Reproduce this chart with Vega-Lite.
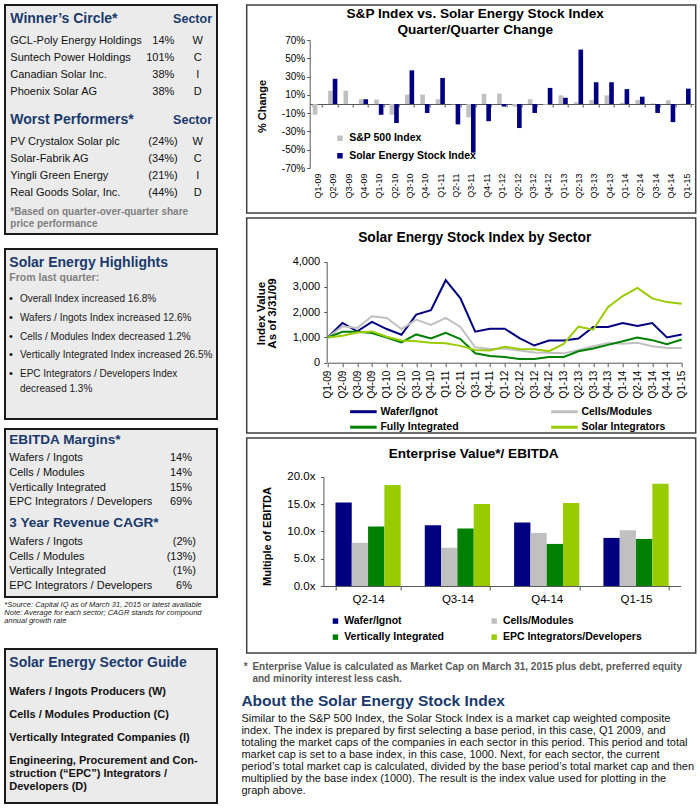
{
  "$schema": "https://vega.github.io/schema/vega-lite/v6.json",
  "padding": {"left": 4, "top": 4, "right": 0, "bottom": 0},
  "background": "white",
  "config": {
    "font": "Liberation Sans",
    "view": {"stroke": null},
    "axis": {"grid": false, "domainColor": "#595959", "tickColor": "#595959", "labelColor": "#000000", "titleColor": "#000000", "labelFont": "Liberation Sans", "titleFont": "Liberation Sans"},
    "legend": {"padding": 0, "labelColor": "#000000", "labelFont": "Liberation Sans"},
    "title": {"font": "Liberation Sans", "color": "#000000"},
    "text": {"font": "Liberation Sans"}
  },
  "spacing": 22.7,
  "resolve": {"scale": {"color": "independent", "xOffset": "independent"}, "legend": {"color": "independent"}},
  "hconcat": [
    {
      "bounds": "flush",
      "spacing": 15,
      "vconcat": [
        {
          "width": 212, "height": 229,
          "view": {"fill": "#ebebeb", "stroke": "#1a1a1a", "strokeWidth": 2},
          "data": {"values": [
            {"k": "h", "t": "Winner’s Circle*", "s": "Sector", "line": -1.3},
            {"k": "i", "t": "GCL-Poly Energy Holdings", "v": "14%", "s": "W", "line": 0},
            {"k": "i", "t": "Suntech Power Holdings", "v": "101%", "s": "C", "line": 1},
            {"k": "i", "t": "Canadian Solar Inc.", "v": "38%", "s": "I", "line": 2},
            {"k": "i", "t": "Phoenix Solar AG", "v": "38%", "s": "D", "line": 3},
            {"k": "h", "t": "Worst Performers*", "s": "Sector", "line": 4.7},
            {"k": "i", "t": "PV Crystalox Solar plc", "v": "(24%)", "s": "W", "line": 6},
            {"k": "i", "t": "Solar-Fabrik AG", "v": "(34%)", "s": "C", "line": 7},
            {"k": "i", "t": "Yingli Green Energy", "v": "(21%)", "s": "I", "line": 8},
            {"k": "i", "t": "Real Goods Solar, Inc.", "v": "(44%)", "s": "D", "line": 9},
            {"k": "f", "t": "*Based on quarter-over-quarter share", "line": 10.1},
            {"k": "f", "t": "\u00a0\u00a0price performance", "line": 10.85}
          ]},
          "encoding": {"y": {"field": "line", "type": "quantitative", "scale": {"domain": [0, 9], "range": [36, 188.1]}, "axis": null}},
          "layer": [
            {"transform": [{"filter": "datum.k == 'h'"}], "mark": {"type": "text", "align": "left", "baseline": "middle", "dx": -100.7, "fontSize": 14, "fontWeight": "bold", "color": "#1a3a6c"}, "encoding": {"text": {"field": "t"}}},
            {"transform": [{"filter": "datum.k == 'h'"}], "mark": {"type": "text", "align": "right", "baseline": "middle", "dx": 101, "fontSize": 12.5, "fontWeight": "bold", "color": "#1a3a6c"}, "encoding": {"text": {"field": "s"}}},
            {"transform": [{"filter": "datum.k == 'i'"}], "mark": {"type": "text", "align": "left", "baseline": "middle", "dx": -100.7, "fontSize": 11, "color": "#111111"}, "encoding": {"text": {"field": "t"}}},
            {"transform": [{"filter": "datum.k == 'i' && indexof(datum.v, '(') < 0"}], "mark": {"type": "text", "align": "right", "baseline": "middle", "dx": 63.3, "fontSize": 11, "color": "#111111"}, "encoding": {"text": {"field": "v"}}},
            {"transform": [{"filter": "datum.k == 'i' && indexof(datum.v, '(') >= 0"}], "mark": {"type": "text", "align": "right", "baseline": "middle", "dx": 66.7, "fontSize": 11, "color": "#111111"}, "encoding": {"text": {"field": "v"}}},
            {"transform": [{"filter": "datum.k == 'i'"}], "mark": {"type": "text", "align": "center", "baseline": "middle", "dx": 86.7, "fontSize": 11, "color": "#111111"}, "encoding": {"text": {"field": "s"}}},
            {"transform": [{"filter": "datum.k == 'f'"}], "mark": {"type": "text", "align": "left", "baseline": "middle", "dx": -100.7, "fontSize": 10, "fontWeight": "bold", "color": "#7f7f7f"}, "encoding": {"text": {"field": "t"}}}
          ]
        },
        {
          "bounds": "flush",
          "spacing": 10,
          "vconcat": [
            {
              "width": 212, "height": 170,
              "view": {"fill": "#ebebeb", "stroke": "#1a1a1a", "strokeWidth": 2},
              "data": {"values": [
                {"k": "h", "t": "Solar Energy Highlights", "line": -1.9},
                {"k": "sub", "t": "From last quarter:", "line": -1.08},
                {"k": "b", "t": "Overall Index increased 16.8%", "line": 0},
                {"k": "b", "t": "Wafers / Ingots Index increased 12.6%", "line": 1},
                {"k": "b", "t": "Cells / Modules Index decreased 1.2%", "line": 2},
                {"k": "b", "t": "Vertically Integrated Index increased 26.5%", "line": 3},
                {"k": "b", "t": "EPC Integrators / Developers Index", "line": 4},
                {"k": "c", "t": "decreased 1.3%", "line": 4.76}
              ]},
              "encoding": {"y": {"field": "line", "type": "quantitative", "scale": {"domain": [0, 4], "range": [49.7, 125.3]}, "axis": null}},
              "layer": [
                {"transform": [{"filter": "datum.k == 'h'"}], "mark": {"type": "text", "align": "left", "baseline": "middle", "dx": -101.7, "fontSize": 14, "fontWeight": "bold", "color": "#1a3a6c"}, "encoding": {"text": {"field": "t"}}},
                {"transform": [{"filter": "datum.k == 'sub'"}], "mark": {"type": "text", "align": "left", "baseline": "middle", "dx": -101.7, "fontSize": 10.5, "fontWeight": "bold", "color": "#7f7f7f"}, "encoding": {"text": {"field": "t"}}},
                {"transform": [{"filter": "datum.k == 'b'"}], "mark": {"type": "text", "align": "center", "baseline": "middle", "dx": -100, "fontSize": 11, "color": "#111111"}, "encoding": {"text": {"value": "•"}}},
                {"transform": [{"filter": "datum.k == 'b' || datum.k == 'c'"}], "mark": {"type": "text", "align": "left", "baseline": "middle", "dx": -91, "fontSize": 10, "color": "#1a1a1a"}, "encoding": {"text": {"field": "t"}}}
              ]
            },
            {
              "bounds": "flush",
              "spacing": 2,
              "vconcat": [
                {
                  "width": 212, "height": 168,
                  "view": {"fill": "#ebebeb", "stroke": "#1a1a1a", "strokeWidth": 2},
                  "data": {"values": [
                    {"k": "h", "t": "EBITDA Margins*", "line": -1.23},
                    {"k": "i", "t": "Wafers / Ingots", "v": "14%", "line": 0},
                    {"k": "i", "t": "Cells / Modules", "v": "14%", "line": 1},
                    {"k": "i", "t": "Vertically Integrated", "v": "15%", "line": 2},
                    {"k": "i", "t": "EPC Integrators / Developers", "v": "69%", "line": 3},
                    {"k": "h", "t": "3 Year Revenue CAGR*", "line": 4.41},
                    {"k": "i", "t": "Wafers / Ingots", "v": "(2%)", "line": 5.75},
                    {"k": "i", "t": "Cells / Modules", "v": "(13%)", "line": 6.75},
                    {"k": "i", "t": "Vertically Integrated", "v": "(1%)", "line": 7.75},
                    {"k": "i", "t": "EPC Integrators / Developers", "v": "6%", "line": 8.75}
                  ]},
                  "encoding": {"y": {"field": "line", "type": "quantitative", "scale": {"domain": [0, 3], "range": [29.3, 73.1]}, "axis": null}},
                  "layer": [
                    {"transform": [{"filter": "datum.k == 'h'"}], "mark": {"type": "text", "align": "left", "baseline": "middle", "dx": -101.7, "fontSize": 13.6, "fontWeight": "bold", "color": "#1a3a6c"}, "encoding": {"text": {"field": "t"}}},
                    {"transform": [{"filter": "datum.k == 'i'"}], "mark": {"type": "text", "align": "left", "baseline": "middle", "dx": -101.7, "fontSize": 11, "color": "#111111"}, "encoding": {"text": {"field": "t"}}},
                    {"transform": [{"filter": "datum.k == 'i' && indexof(datum.v, '(') < 0"}], "mark": {"type": "text", "align": "right", "baseline": "middle", "dx": 81, "fontSize": 11, "color": "#111111"}, "encoding": {"text": {"field": "v"}}},
                    {"transform": [{"filter": "datum.k == 'i' && indexof(datum.v, '(') >= 0"}], "mark": {"type": "text", "align": "right", "baseline": "middle", "dx": 85, "fontSize": 11, "color": "#111111"}, "encoding": {"text": {"field": "v"}}}
                  ]
                },
                {
                  "width": 212, "height": 48,
                  "data": {"values": [
                    {"t": "*Source: Capital IQ as of March 31, 2015 or latest available", "line": 0},
                    {"t": "Note: Average for each sector; CAGR stands for compound", "line": 1},
                    {"t": "annual growth rate", "line": 2}
                  ]},
                  "mark": {"type": "text", "align": "left", "baseline": "middle", "dx": -106.7, "fontSize": 7.5, "fontStyle": "italic", "color": "#222222"},
                  "encoding": {
                    "y": {"field": "line", "type": "quantitative", "scale": {"domain": [0, 2], "range": [6, 22]}, "axis": null},
                    "text": {"field": "t"}
                  }
                },
                {
                  "width": 212, "height": 154,
                  "view": {"fill": "#ebebeb", "stroke": "#1a1a1a", "strokeWidth": 2},
                  "data": {"values": [
                    {"k": "h", "t": "Solar Energy Sector Guide", "line": -1.26},
                    {"k": "i", "t": "Wafers / Ingots Producers (W)", "line": 0},
                    {"k": "i", "t": "Cells / Modules Production (C)", "line": 1},
                    {"k": "i", "t": "Vertically Integrated Companies (I)", "line": 2},
                    {"k": "i", "t": "Engineering, Procurement and Con-", "line": 3},
                    {"k": "i", "t": "struction (“EPC”) Integrators /", "line": 3.58},
                    {"k": "i", "t": "Developers (D)", "line": 4.16}
                  ]},
                  "encoding": {"y": {"field": "line", "type": "quantitative", "scale": {"domain": [0, 2], "range": [42.7, 88.7]}, "axis": null}},
                  "layer": [
                    {"transform": [{"filter": "datum.k == 'h'"}], "mark": {"type": "text", "align": "left", "baseline": "middle", "dx": -101.7, "fontSize": 14, "fontWeight": "bold", "color": "#1a3a6c"}, "encoding": {"text": {"field": "t"}}},
                    {"transform": [{"filter": "datum.k == 'i'"}], "mark": {"type": "text", "align": "left", "baseline": "middle", "dx": -101.7, "fontSize": 11, "fontWeight": "bold", "color": "#111111"}, "encoding": {"text": {"field": "t"}}}
                  ]
                }
              ]
            }
          ]
        }
      ]
    },
    {
      "bounds": "flush",
      "spacing": 5,
      "resolve": {"scale": {"color": "independent", "xOffset": "independent"}, "legend": {"color": "independent"}},
      "vconcat": [
        {
          "width": 449, "height": 208,
          "view": {"fill": "white", "stroke": "#404040", "strokeWidth": 1.5},
          "title": {"text": ["S&P Index vs. Solar Energy Stock Index", "Quarter/Quarter Change"], "fontSize": 13.6, "fontWeight": "bold", "anchor": "middle", "frame": "group", "offset": -31.5, "dx": 4, "lineHeight": 15.5},
          "data": {"values": [
            {"q": "Q1-09", "s": "S&P 500 Index", "v": -11.7},
            {"q": "Q2-09", "s": "S&P 500 Index", "v": 14.5},
            {"q": "Q3-09", "s": "S&P 500 Index", "v": 14.5},
            {"q": "Q4-09", "s": "S&P 500 Index", "v": 5.2},
            {"q": "Q1-10", "s": "S&P 500 Index", "v": 4.8},
            {"q": "Q2-10", "s": "S&P 500 Index", "v": -11.8},
            {"q": "Q3-10", "s": "S&P 500 Index", "v": 10.2},
            {"q": "Q4-10", "s": "S&P 500 Index", "v": 10.2},
            {"q": "Q1-11", "s": "S&P 500 Index", "v": 5.2},
            {"q": "Q2-11", "s": "S&P 500 Index", "v": -0.4},
            {"q": "Q3-11", "s": "S&P 500 Index", "v": -14.5},
            {"q": "Q4-11", "s": "S&P 500 Index", "v": 11.2},
            {"q": "Q1-12", "s": "S&P 500 Index", "v": 11.5},
            {"q": "Q2-12", "s": "S&P 500 Index", "v": -3.0},
            {"q": "Q3-12", "s": "S&P 500 Index", "v": 5.2},
            {"q": "Q4-12", "s": "S&P 500 Index", "v": -1.0},
            {"q": "Q1-13", "s": "S&P 500 Index", "v": 9.5},
            {"q": "Q2-13", "s": "S&P 500 Index", "v": 2.0},
            {"q": "Q3-13", "s": "S&P 500 Index", "v": 4.3},
            {"q": "Q4-13", "s": "S&P 500 Index", "v": 9.5},
            {"q": "Q1-14", "s": "S&P 500 Index", "v": 1.3},
            {"q": "Q2-14", "s": "S&P 500 Index", "v": 4.3},
            {"q": "Q3-14", "s": "S&P 500 Index", "v": 0.6},
            {"q": "Q4-14", "s": "S&P 500 Index", "v": 4.2},
            {"q": "Q1-15", "s": "S&P 500 Index", "v": 0.5},
            {"q": "Q1-09", "s": "Solar Energy Stock Index", "v": 0},
            {"q": "Q2-09", "s": "Solar Energy Stock Index", "v": 27.6},
            {"q": "Q3-09", "s": "Solar Energy Stock Index", "v": 0},
            {"q": "Q4-09", "s": "Solar Energy Stock Index", "v": 5.2},
            {"q": "Q1-10", "s": "Solar Energy Stock Index", "v": -11.8},
            {"q": "Q2-10", "s": "Solar Energy Stock Index", "v": -20.8},
            {"q": "Q3-10", "s": "Solar Energy Stock Index", "v": 36.8},
            {"q": "Q4-10", "s": "Solar Energy Stock Index", "v": -9.8},
            {"q": "Q1-11", "s": "Solar Energy Stock Index", "v": 28.5},
            {"q": "Q2-11", "s": "Solar Energy Stock Index", "v": -22.3},
            {"q": "Q3-11", "s": "Solar Energy Stock Index", "v": -53.2},
            {"q": "Q4-11", "s": "Solar Energy Stock Index", "v": -18.8},
            {"q": "Q1-12", "s": "Solar Energy Stock Index", "v": -2.8},
            {"q": "Q2-12", "s": "Solar Energy Stock Index", "v": -26.3},
            {"q": "Q3-12", "s": "Solar Energy Stock Index", "v": -9.8},
            {"q": "Q4-12", "s": "Solar Energy Stock Index", "v": 17.6},
            {"q": "Q1-13", "s": "Solar Energy Stock Index", "v": 6.8},
            {"q": "Q2-13", "s": "Solar Energy Stock Index", "v": 59.5},
            {"q": "Q3-13", "s": "Solar Energy Stock Index", "v": 23.8},
            {"q": "Q4-13", "s": "Solar Energy Stock Index", "v": 23.8},
            {"q": "Q1-14", "s": "Solar Energy Stock Index", "v": 16.3},
            {"q": "Q2-14", "s": "Solar Energy Stock Index", "v": 8.0},
            {"q": "Q3-14", "s": "Solar Energy Stock Index", "v": -9.8},
            {"q": "Q4-14", "s": "Solar Energy Stock Index", "v": -19.8},
            {"q": "Q1-15", "s": "Solar Energy Stock Index", "v": 16.8}
          ]},
          "mark": {"type": "bar"},
          "encoding": {
            "x": {"field": "q", "type": "nominal", "sort": null,
                  "scale": {"range": [63, 447], "paddingInner": 0.4, "paddingOuter": 0.2},
                  "axis": {"title": null, "orient": "bottom", "offset": -109, "labelAngle": -90, "labelFontSize": 9, "labelPadding": 66, "tickBand": "extent", "tickSize": 3}},
            "xOffset": {"field": "s", "type": "nominal", "sort": ["S&P 500 Index", "Solar Energy Stock Index"]},
            "y": {"field": "v", "type": "quantitative",
                  "scale": {"domain": [-70, 70], "range": [163, 35], "nice": false, "zero": false},
                  "axis": {"title": "% Change", "offset": -63, "values": [-70, -50, -30, -10, 10, 30, 50, 70], "labelExpr": "datum.value + '%'", "labelFontSize": 10, "tickSize": 3, "titleFontSize": 11, "titleFontWeight": "bold", "titleX": -42, "titleY": 101}},
            "color": {"field": "s", "type": "nominal",
                      "scale": {"domain": ["S&P 500 Index", "Solar Energy Stock Index"], "range": ["#c0c0c0", "#000080"]},
                      "legend": {"orient": "none", "legendX": 88, "legendY": 128, "title": null, "columns": 1, "symbolType": "square", "symbolSize": 30, "labelFontSize": 10.5, "labelFontWeight": "bold", "rowPadding": 6.5, "labelOffset": 4}}
          }
        },
        {
          "width": 449, "height": 215,
          "view": {"fill": "white", "stroke": "#404040", "strokeWidth": 1.5},
          "title": {"text": "Solar Energy Stock Index by Sector", "fontSize": 13.8, "fontWeight": "bold", "anchor": "middle", "frame": "group", "offset": -27, "dx": 3.5},
          "data": {"values": [
            {"q": "Q1-09", "s": "Wafer/Ignot", "v": 1000}, {"q": "Q2-09", "s": "Wafer/Ignot", "v": 1573}, {"q": "Q3-09", "s": "Wafer/Ignot", "v": 1240}, {"q": "Q4-09", "s": "Wafer/Ignot", "v": 1613}, {"q": "Q1-10", "s": "Wafer/Ignot", "v": 1333}, {"q": "Q2-10", "s": "Wafer/Ignot", "v": 1107}, {"q": "Q3-10", "s": "Wafer/Ignot", "v": 1907}, {"q": "Q4-10", "s": "Wafer/Ignot", "v": 2080}, {"q": "Q1-11", "s": "Wafer/Ignot", "v": 3267}, {"q": "Q2-11", "s": "Wafer/Ignot", "v": 2547}, {"q": "Q3-11", "s": "Wafer/Ignot", "v": 1227}, {"q": "Q4-11", "s": "Wafer/Ignot", "v": 1347}, {"q": "Q1-12", "s": "Wafer/Ignot", "v": 1347}, {"q": "Q2-12", "s": "Wafer/Ignot", "v": 973}, {"q": "Q3-12", "s": "Wafer/Ignot", "v": 680}, {"q": "Q4-12", "s": "Wafer/Ignot", "v": 880}, {"q": "Q1-13", "s": "Wafer/Ignot", "v": 880}, {"q": "Q2-13", "s": "Wafer/Ignot", "v": 960}, {"q": "Q3-13", "s": "Wafer/Ignot", "v": 1413}, {"q": "Q4-13", "s": "Wafer/Ignot", "v": 1413}, {"q": "Q1-14", "s": "Wafer/Ignot", "v": 1573}, {"q": "Q2-14", "s": "Wafer/Ignot", "v": 1453}, {"q": "Q3-14", "s": "Wafer/Ignot", "v": 1573}, {"q": "Q4-14", "s": "Wafer/Ignot", "v": 1000}, {"q": "Q1-15", "s": "Wafer/Ignot", "v": 1120},
            {"q": "Q1-09", "s": "Cells/Modules", "v": 1000}, {"q": "Q2-09", "s": "Cells/Modules", "v": 1440}, {"q": "Q3-09", "s": "Cells/Modules", "v": 1373}, {"q": "Q4-09", "s": "Cells/Modules", "v": 1840}, {"q": "Q1-10", "s": "Cells/Modules", "v": 1773}, {"q": "Q2-10", "s": "Cells/Modules", "v": 1333}, {"q": "Q3-10", "s": "Cells/Modules", "v": 1707}, {"q": "Q4-10", "s": "Cells/Modules", "v": 1493}, {"q": "Q1-11", "s": "Cells/Modules", "v": 1773}, {"q": "Q2-11", "s": "Cells/Modules", "v": 1413}, {"q": "Q3-11", "s": "Cells/Modules", "v": 613}, {"q": "Q4-11", "s": "Cells/Modules", "v": 540}, {"q": "Q1-12", "s": "Cells/Modules", "v": 560}, {"q": "Q2-12", "s": "Cells/Modules", "v": 480}, {"q": "Q3-12", "s": "Cells/Modules", "v": 400}, {"q": "Q4-12", "s": "Cells/Modules", "v": 390}, {"q": "Q1-13", "s": "Cells/Modules", "v": 370}, {"q": "Q2-13", "s": "Cells/Modules", "v": 500}, {"q": "Q3-13", "s": "Cells/Modules", "v": 650}, {"q": "Q4-13", "s": "Cells/Modules", "v": 780}, {"q": "Q1-14", "s": "Cells/Modules", "v": 750}, {"q": "Q2-14", "s": "Cells/Modules", "v": 790}, {"q": "Q3-14", "s": "Cells/Modules", "v": 650}, {"q": "Q4-14", "s": "Cells/Modules", "v": 580}, {"q": "Q1-15", "s": "Cells/Modules", "v": 580},
            {"q": "Q1-09", "s": "Fully Integrated", "v": 1000}, {"q": "Q2-09", "s": "Fully Integrated", "v": 1227}, {"q": "Q3-09", "s": "Fully Integrated", "v": 1227}, {"q": "Q4-09", "s": "Fully Integrated", "v": 1173}, {"q": "Q1-10", "s": "Fully Integrated", "v": 1000}, {"q": "Q2-10", "s": "Fully Integrated", "v": 800}, {"q": "Q3-10", "s": "Fully Integrated", "v": 1120}, {"q": "Q4-10", "s": "Fully Integrated", "v": 960}, {"q": "Q1-11", "s": "Fully Integrated", "v": 1187}, {"q": "Q2-11", "s": "Fully Integrated", "v": 933}, {"q": "Q3-11", "s": "Fully Integrated", "v": 373}, {"q": "Q4-11", "s": "Fully Integrated", "v": 267}, {"q": "Q1-12", "s": "Fully Integrated", "v": 227}, {"q": "Q2-12", "s": "Fully Integrated", "v": 147}, {"q": "Q3-12", "s": "Fully Integrated", "v": 147}, {"q": "Q4-12", "s": "Fully Integrated", "v": 227}, {"q": "Q1-13", "s": "Fully Integrated", "v": 227}, {"q": "Q2-13", "s": "Fully Integrated", "v": 453}, {"q": "Q3-13", "s": "Fully Integrated", "v": 560}, {"q": "Q4-13", "s": "Fully Integrated", "v": 707}, {"q": "Q1-14", "s": "Fully Integrated", "v": 853}, {"q": "Q2-14", "s": "Fully Integrated", "v": 1000}, {"q": "Q3-14", "s": "Fully Integrated", "v": 893}, {"q": "Q4-14", "s": "Fully Integrated", "v": 733}, {"q": "Q1-15", "s": "Fully Integrated", "v": 920},
            {"q": "Q1-09", "s": "Solar Integrators", "v": 1000}, {"q": "Q2-09", "s": "Solar Integrators", "v": 1067}, {"q": "Q3-09", "s": "Solar Integrators", "v": 1200}, {"q": "Q4-09", "s": "Solar Integrators", "v": 1240}, {"q": "Q1-10", "s": "Solar Integrators", "v": 1027}, {"q": "Q2-10", "s": "Solar Integrators", "v": 880}, {"q": "Q3-10", "s": "Solar Integrators", "v": 853}, {"q": "Q4-10", "s": "Solar Integrators", "v": 787}, {"q": "Q1-11", "s": "Solar Integrators", "v": 773}, {"q": "Q2-11", "s": "Solar Integrators", "v": 667}, {"q": "Q3-11", "s": "Solar Integrators", "v": 507}, {"q": "Q4-11", "s": "Solar Integrators", "v": 480}, {"q": "Q1-12", "s": "Solar Integrators", "v": 627}, {"q": "Q2-12", "s": "Solar Integrators", "v": 547}, {"q": "Q3-12", "s": "Solar Integrators", "v": 533}, {"q": "Q4-12", "s": "Solar Integrators", "v": 453}, {"q": "Q1-13", "s": "Solar Integrators", "v": 747}, {"q": "Q2-13", "s": "Solar Integrators", "v": 1427}, {"q": "Q3-13", "s": "Solar Integrators", "v": 1307}, {"q": "Q4-13", "s": "Solar Integrators", "v": 2200}, {"q": "Q1-14", "s": "Solar Integrators", "v": 2640}, {"q": "Q2-14", "s": "Solar Integrators", "v": 2960}, {"q": "Q3-14", "s": "Solar Integrators", "v": 2547}, {"q": "Q4-14", "s": "Solar Integrators", "v": 2400}, {"q": "Q1-15", "s": "Solar Integrators", "v": 2333}
          ]},
          "mark": {"type": "line", "strokeWidth": 2},
          "encoding": {
            "x": {"field": "q", "type": "ordinal", "sort": null,
                  "scale": {"type": "point", "padding": 0, "range": [81, 435]},
                  "axis": {"title": null, "orient": "bottom", "offset": -70.3, "labelAngle": -90, "labelFontSize": 10, "labelPadding": 3.5, "tickSize": 4}},
            "y": {"field": "v", "type": "quantitative",
                  "scale": {"domain": [0, 4000], "range": [144.7, 43.7], "nice": false},
                  "axis": {"title": ["Index Value", "As of 3/31/09"], "offset": -80, "values": [0, 1000, 2000, 3000, 4000], "format": ",.0f", "labelFontSize": 11, "labelPadding": 4, "tickSize": 3, "titleFontSize": 11.5, "titleFontWeight": "bold", "titleLineHeight": 11, "titleX": -60, "titleY": 95}},
            "color": {"field": "s", "type": "nominal",
                      "scale": {"domain": ["Wafer/Ignot", "Cells/Modules", "Fully Integrated", "Solar Integrators"], "range": ["#000080", "#c0c0c0", "#008000", "#99cc00"]},
                      "legend": {"orient": "none", "direction": "horizontal", "legendX": 109.7, "legendY": 186.7, "title": null, "columns": 2, "symbolType": "M-2.5,0H2.5", "symbolSize": 113, "symbolStrokeWidth": 3, "labelFontSize": 10.5, "labelFontWeight": "bold", "rowPadding": 2.5, "columnPadding": 85, "labelOffset": 10}}
          }
        },
        {
          "width": 449, "height": 215,
          "view": {"fill": "white", "stroke": "#404040", "strokeWidth": 1.5},
          "title": {"text": "Enterprise Value*/ EBITDA", "fontSize": 13.6, "fontWeight": "bold", "anchor": "middle", "frame": "group", "offset": -23, "dx": 2.5},
          "data": {"values": [
            {"q": "Q2-14", "s": "Wafer/Ignot", "v": 15.3}, {"q": "Q2-14", "s": "Cells/Modules", "v": 7.9}, {"q": "Q2-14", "s": "Vertically Integrated", "v": 10.9}, {"q": "Q2-14", "s": "EPC Integrators/Developers", "v": 18.5},
            {"q": "Q3-14", "s": "Wafer/Ignot", "v": 11.1}, {"q": "Q3-14", "s": "Cells/Modules", "v": 7.0}, {"q": "Q3-14", "s": "Vertically Integrated", "v": 10.5}, {"q": "Q3-14", "s": "EPC Integrators/Developers", "v": 15.0},
            {"q": "Q4-14", "s": "Wafer/Ignot", "v": 11.6}, {"q": "Q4-14", "s": "Cells/Modules", "v": 9.7}, {"q": "Q4-14", "s": "Vertically Integrated", "v": 7.7}, {"q": "Q4-14", "s": "EPC Integrators/Developers", "v": 15.2},
            {"q": "Q1-15", "s": "Wafer/Ignot", "v": 8.8}, {"q": "Q1-15", "s": "Cells/Modules", "v": 10.2}, {"q": "Q1-15", "s": "Vertically Integrated", "v": 8.6}, {"q": "Q1-15", "s": "EPC Integrators/Developers", "v": 18.7}
          ]},
          "mark": {"type": "bar"},
          "encoding": {
            "x": {"field": "q", "type": "nominal", "sort": null,
                  "scale": {"range": [76.7, 434], "paddingInner": 0.27, "paddingOuter": 0.135},
                  "axis": {"title": null, "orient": "bottom", "offset": -67, "labelAngle": 0, "labelFontSize": 11.5, "labelPadding": 3, "tickBand": "extent", "tickSize": 4}},
            "xOffset": {"field": "s", "type": "nominal", "sort": ["Wafer/Ignot", "Cells/Modules", "Vertically Integrated", "EPC Integrators/Developers"]},
            "y": {"field": "v", "type": "quantitative",
                  "scale": {"domain": [0, 20], "range": [148, 38.7], "nice": false},
                  "axis": {"title": "Multiple of EBITDA", "offset": -76.7, "values": [0, 5, 10, 15, 20], "labelExpr": "format(datum.value, '.1f') + 'x'", "labelFontSize": 11.5, "labelPadding": 5.5, "tickSize": 3, "titleFontSize": 11, "titleFontWeight": "bold", "titleX": -50.5, "titleY": 98}},
            "color": {"field": "s", "type": "nominal",
                      "scale": {"domain": ["Wafer/Ignot", "Cells/Modules", "Vertically Integrated", "EPC Integrators/Developers"], "range": ["#000080", "#c0c0c0", "#008000", "#99cc00"]},
                      "legend": {"orient": "none", "direction": "horizontal", "legendX": 83.5, "legendY": 177.7, "title": null, "columns": 2, "symbolType": "square", "symbolSize": 30, "labelFontSize": 10.5, "labelFontWeight": "bold", "rowPadding": 5.2, "columnPadding": 44.7, "labelOffset": 3.5}}
          }
        },
        {
          "width": 449, "height": 150,
          "data": {"values": [
            {"k": "n1", "t": "Enterprise Value is calculated as Market Cap on March 31, 2015 plus debt, preferred equity", "line": -4.36},
            {"k": "n2", "t": "and minority interest less cash.", "line": -3.31},
            {"k": "h", "t": "About the Solar Energy Stock Index", "line": -1.5},
            {"k": "p", "t": "Similar to the S&P 500 Index, the Solar Stock Index is a market cap weighted composite", "line": 0},
            {"k": "p", "t": "index. The index is prepared by first selecting a base period, in this case, Q1 2009, and", "line": 1},
            {"k": "p", "t": "totaling the market caps of the companies in each sector in this period. This period and total", "line": 2},
            {"k": "p", "t": "market cap is set to a base index, in this case, 1000. Next, for each sector, the current", "line": 3},
            {"k": "p", "t": "period’s total market cap is calculated, divided by the base period’s total market cap and then", "line": 4},
            {"k": "p", "t": "multiplied by the base index (1000). The result is the index value used for plotting in the", "line": 5},
            {"k": "p", "t": "graph above.", "line": 6}
          ]},
          "encoding": {"y": {"field": "line", "type": "quantitative", "scale": {"domain": [0, 6], "range": [61, 133]}, "axis": null}},
          "layer": [
            {"transform": [{"filter": "datum.k == 'n1' || datum.k == 'n2'"}], "mark": {"type": "text", "align": "left", "baseline": "middle", "dx": -218.8, "fontSize": 10, "fontWeight": "bold", "color": "#595959"}, "encoding": {"text": {"field": "t"}}},
            {"transform": [{"filter": "datum.k == 'n1'"}], "mark": {"type": "text", "align": "left", "baseline": "middle", "dx": -227.5, "fontSize": 10, "fontWeight": "bold", "color": "#595959"}, "encoding": {"text": {"value": "*"}}},
            {"transform": [{"filter": "datum.k == 'h'"}], "mark": {"type": "text", "align": "left", "baseline": "middle", "dx": -229.8, "fontSize": 15.5, "fontWeight": "bold", "color": "#1a3a6c"}, "encoding": {"text": {"field": "t"}}},
            {"transform": [{"filter": "datum.k == 'p'"}], "mark": {"type": "text", "align": "left", "baseline": "middle", "dx": -229.8, "fontSize": 11, "color": "#111111"}, "encoding": {"text": {"field": "t"}}}
          ]
        }
      ]
    }
  ]
}
